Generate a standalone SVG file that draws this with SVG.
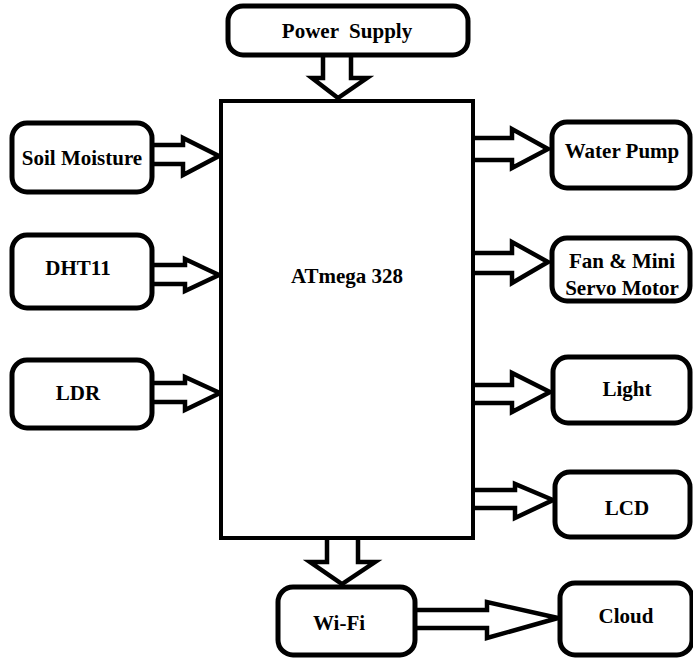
<svg xmlns="http://www.w3.org/2000/svg" width="693" height="658" viewBox="0 0 693 658">
<style>
.node{fill:#fff;stroke:#000;stroke-width:5}
.main{fill:#fff;stroke:#000;stroke-width:4}
.arr{fill:#fff;stroke:#000;stroke-width:4.5;stroke-linejoin:miter}
.t{font-family:'Liberation Serif','DejaVu Serif',serif;font-weight:bold;font-size:21px;fill:#000;text-anchor:middle}
</style>
<rect width="693" height="658" fill="#fff"/>
<g id="connectors">
<polyline class="arr" points="323,55 323,78 312,78 338,98 367,78 351,78 351,55"/>
<polyline class="arr" points="152,145 183,145 183,138 219,156 183,175 183,164 152,164"/>
<polyline class="arr" points="152,265 185,265 185,259 219,275 185,291 185,284 152,284"/>
<polyline class="arr" points="152,383 185,383 185,377 220,393 185,410 185,402 152,402"/>
<polyline class="arr" points="473,138 512,138 512,129 548,149 512,168 512,160 473,160"/>
<polyline class="arr" points="473,253 512,253 512,242 548,262 512,283 512,273 473,273"/>
<polyline class="arr" points="473,385 512,385 512,373 550,392 512,412 512,403 473,403"/>
<polyline class="arr" points="473,490 515,490 515,484 553,500 515,518 515,508 473,508"/>
<polyline class="arr" points="327,538 327,562 310,562 342,584 375,562 358,562 358,538"/>
<polyline class="arr" points="415,610 487,610 487,602 558,618 487,638 487,628 415,628"/>
</g>
<g id="atmega">
<rect class="main" x="221" y="101" width="252" height="437"/>
<text class="t" x="347" y="283" font-family="Liberation Serif, serif">ATmega 328</text>
</g>
<g id="power">
<rect class="node" x="228" y="6" width="240" height="49" rx="15"/>
<text class="t" x="347" y="38" xml:space="preserve" font-family="Liberation Serif, serif">Power  Supply</text>
</g>
<g id="soil">
<rect class="node" x="12" y="123" width="140" height="69" rx="15"/>
<text class="t" x="82" y="165" font-family="Liberation Serif, serif">Soil Moisture</text>
</g>
<g id="dht11">
<rect class="node" x="12" y="235" width="140" height="73" rx="15"/>
<text class="t" x="78" y="275" font-family="Liberation Serif, serif">DHT11</text>
</g>
<g id="ldr">
<rect class="node" x="12" y="360" width="140" height="68" rx="15"/>
<text class="t" x="78" y="400" font-family="Liberation Serif, serif">LDR</text>
</g>
<g id="pump">
<rect class="node" x="552" y="122" width="138" height="66" rx="15"/>
<text class="t" x="622" y="158" font-family="Liberation Serif, serif">Water Pump</text>
</g>
<g id="fan">
<rect class="node" x="552" y="238" width="138" height="63" rx="15"/>
<text class="t" x="622" y="268" font-family="Liberation Serif, serif">Fan &amp; Mini</text>
<text class="t" x="622" y="295" font-family="Liberation Serif, serif">Servo Motor</text>
</g>
<g id="light">
<rect class="node" x="553" y="357" width="137" height="66" rx="15"/>
<text class="t" x="627" y="396" font-family="Liberation Serif, serif">Light</text>
</g>
<g id="lcd">
<rect class="node" x="555" y="472" width="135" height="65" rx="15"/>
<text class="t" x="627" y="515" font-family="Liberation Serif, serif">LCD</text>
</g>
<g id="wifi">
<rect class="node" x="278" y="587" width="137" height="68" rx="15"/>
<text class="t" x="339" y="630" font-family="Liberation Serif, serif">Wi-Fi</text>
</g>
<g id="cloud">
<rect class="node" x="560" y="583" width="132" height="72" rx="15"/>
<text class="t" x="626" y="623" font-family="Liberation Serif, serif">Cloud</text>
</g>
</svg>
